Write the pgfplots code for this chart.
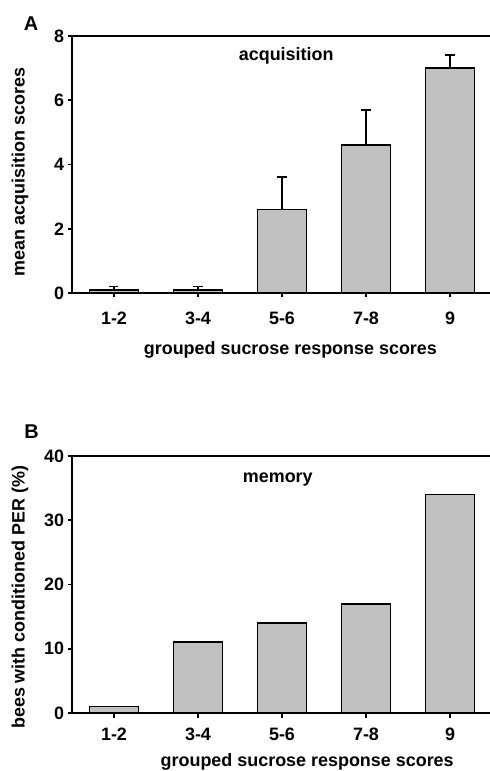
\documentclass[border=0pt]{standalone}
\usepackage{fontspec}
\setmainfont{Liberation Sans}
\usepackage{pgfplots}
\pgfplotsset{compat=1.18}
\definecolor{barfill}{RGB}{192,192,192}
\pgfplotsset{
  beeaxis/.style={
    scale only axis, width=420bp, height=257bp,
    xmin=-0.5, xmax=4.5, ymin=0,
    xtick={0,1,2,3,4}, xticklabels={1-2,3-4,5-6,7-8,9},
    tick pos=left, tick align=outside, major tick length=4.5bp,
    every tick/.style={line width=1.8bp, black},
    axis line style={line width=2bp},
    /pgf/number format/assume math mode=true,
    ticklabel style={font=\fontsize{18}{20}\selectfont\bfseries},
    label style={font=\fontsize{18}{20}\selectfont\bfseries},
    ybar, bar width=49bp,
  },
  beebar/.style={fill=barfill, draw=black, line width=1.8bp},
}
\begin{document}
\begin{tikzpicture}
\path[use as bounding box] (0,0) rectangle (490bp,771bp);
\node[font=\fontsize{20}{22}\selectfont\bfseries] at (31bp,747.5bp) {A};
\node[font=\fontsize{20}{22}\selectfont\bfseries] at (31.5bp,339bp) {B};

\begin{axis}[beeaxis, at={(72bp,478bp)}, anchor=south west,
  ymax=8, ytick={0,2,4,6,8},
  xticklabel style={yshift=-11bp},
  ylabel={mean acquisition scores},
  ylabel style={at={(axis description cs:-0.124,0.47)}, anchor=center},
  xlabel={grouped sucrose response scores},
  xlabel style={at={(axis description cs:0.52,-0.222)}, anchor=center},
  ]
  \addplot[beebar,
    error bars/.cd, y dir=plus, y explicit,
    error bar style={line width=1.8bp, black},
    error mark options={rotate=90, mark size=4.5bp, line width=1.8bp, black}]
    coordinates {(0,0.1) +- (0,0.1) (1,0.1) +- (0,0.1) (2,2.6) +- (0,1.0)
                 (3,4.6) +- (0,1.1) (4,7.0) +- (0,0.4)};
  \node[font=\fontsize{18}{20}\selectfont\bfseries, anchor=center] at (axis cs:2.05,7.38) {acquisition};
\end{axis}

\begin{axis}[beeaxis, at={(72bp,58bp)}, anchor=south west,
  ymax=40, ytick={0,10,20,30,40},
  xticklabel style={yshift=-7bp},
  ylabel={bees with conditioned PER (\%)},
  ylabel style={at={(axis description cs:-0.124,0.45)}, anchor=center},
  xlabel={grouped sucrose response scores},
  xlabel style={at={(axis description cs:0.56,-0.19)}, anchor=center},
  ]
  \addplot[beebar] coordinates {(0,1) (1,11) (2,14) (3,17) (4,34)};
  \node[font=\fontsize{18}{20}\selectfont\bfseries, anchor=center] at (axis cs:1.95,36.3) {memory};
\end{axis}
\end{tikzpicture}
\end{document}
